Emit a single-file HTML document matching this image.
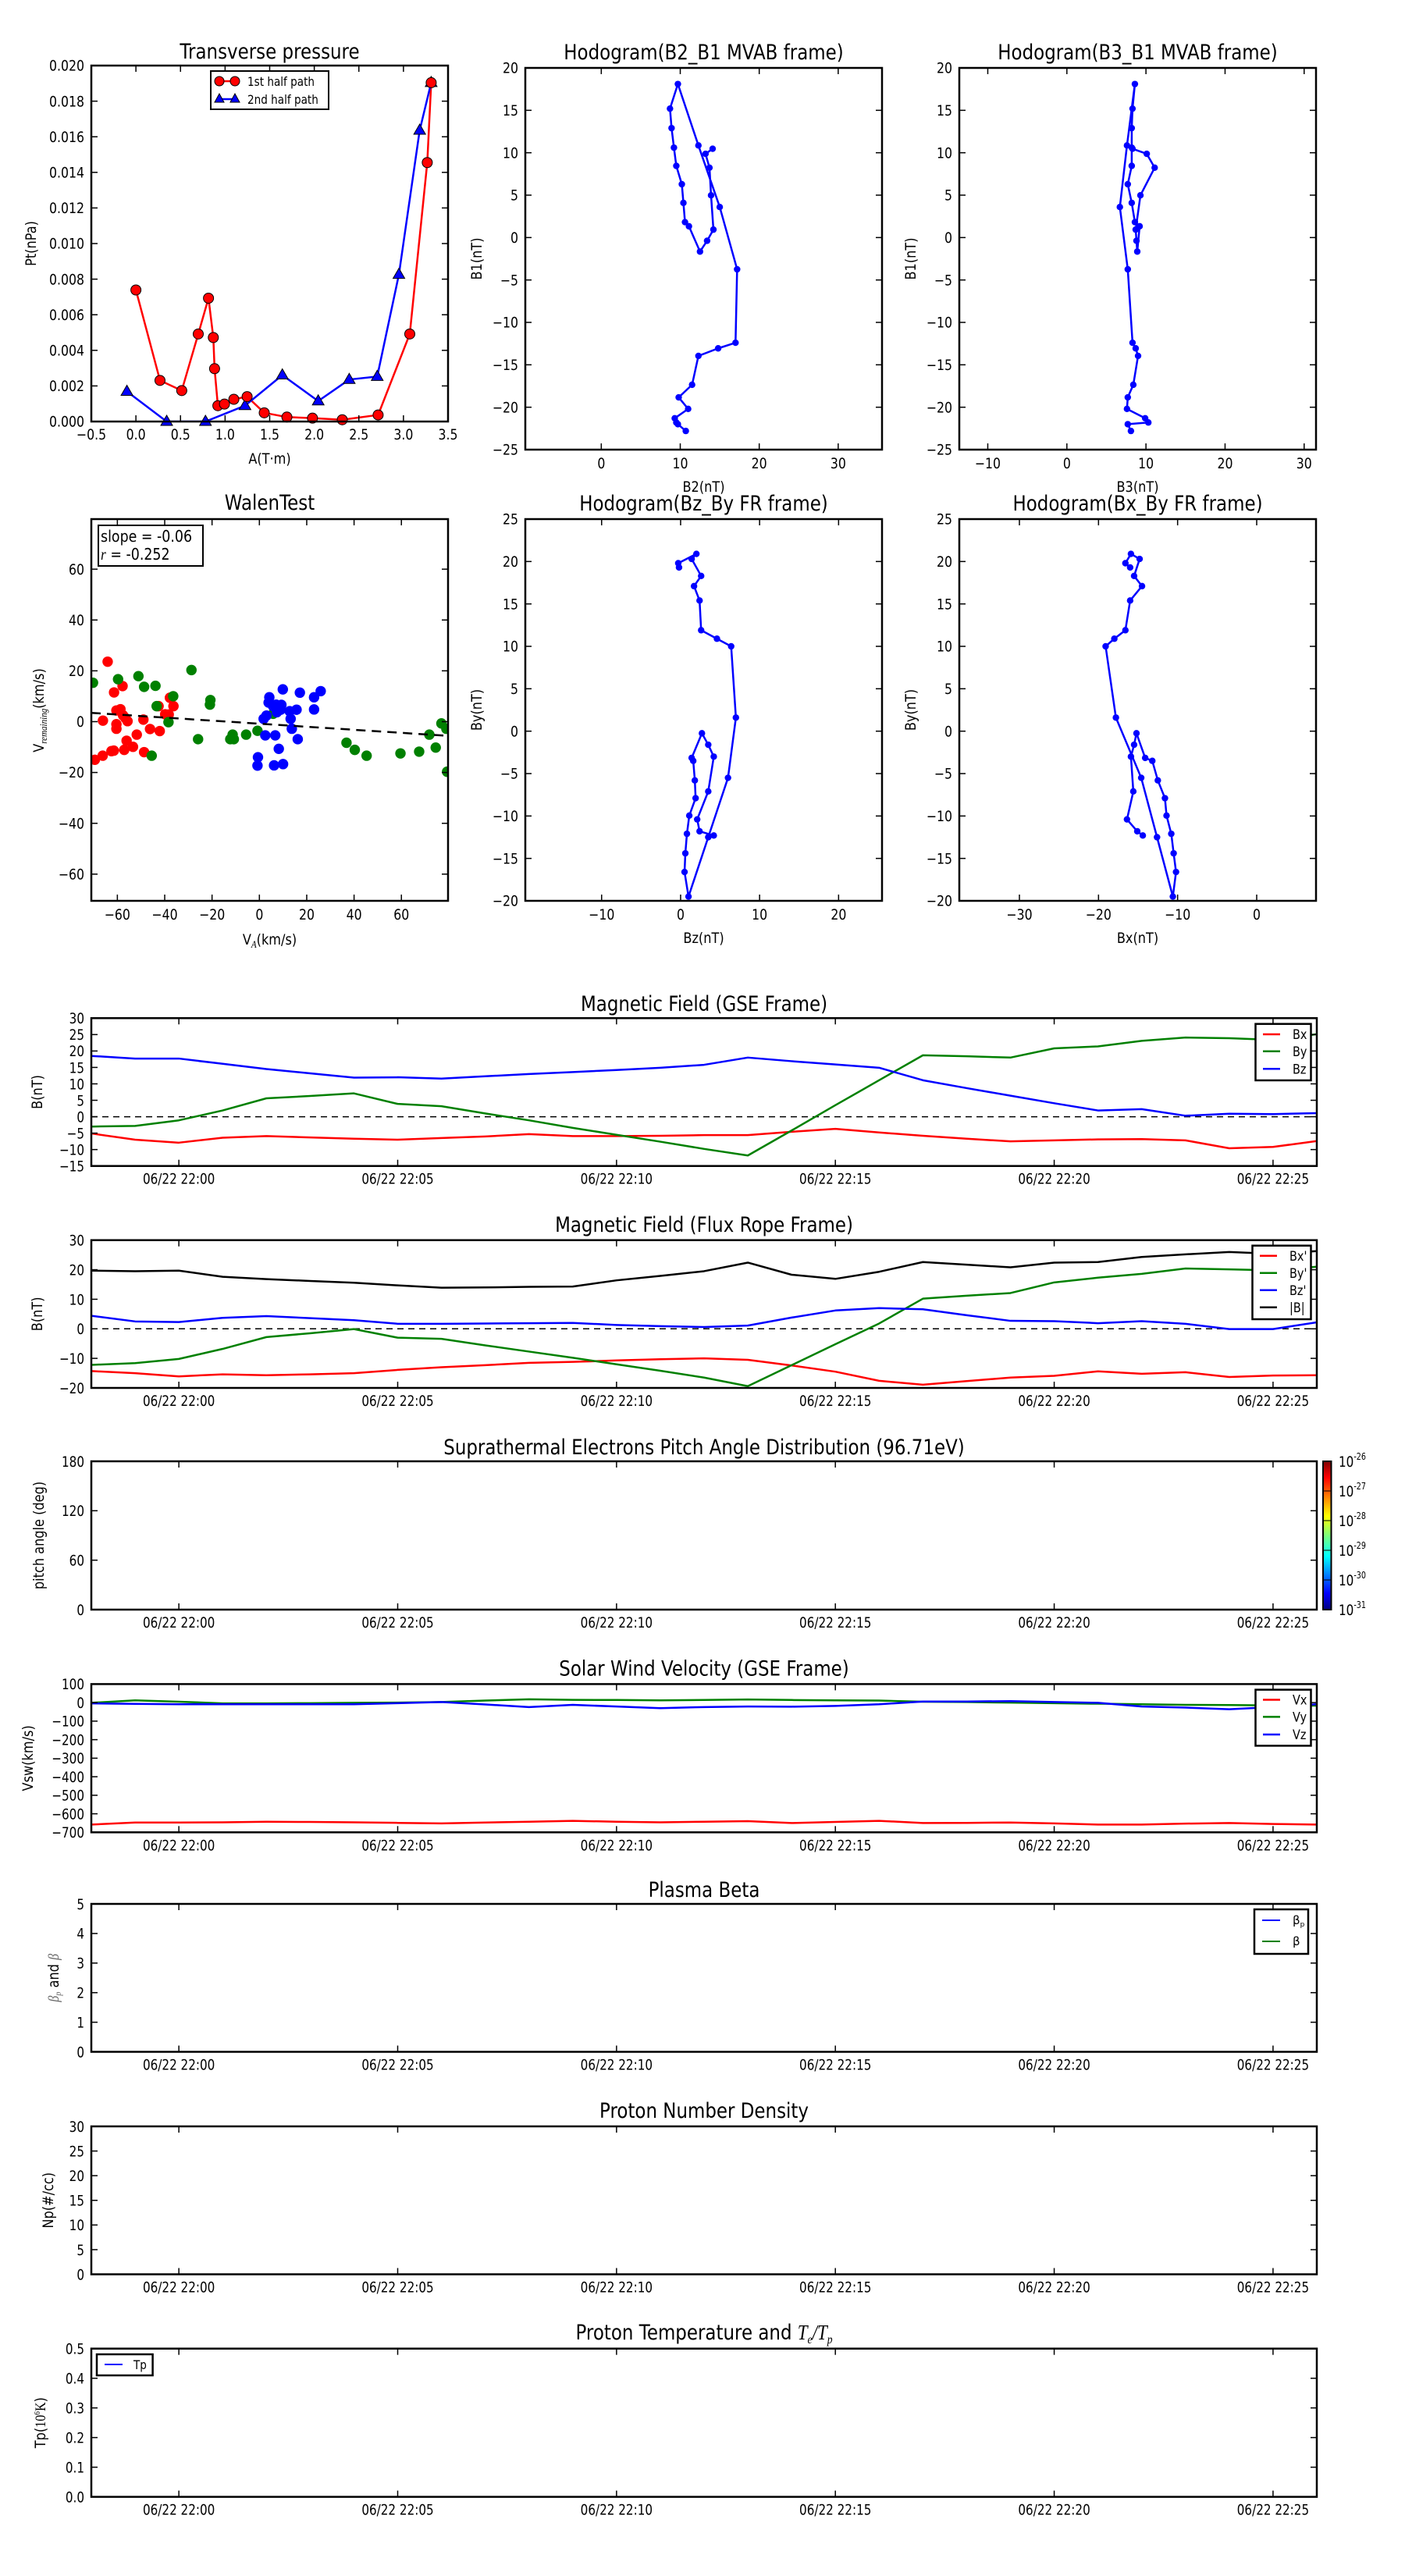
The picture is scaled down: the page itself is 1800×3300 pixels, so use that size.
<!DOCTYPE html>
<html><head><meta charset="utf-8"><title>Flux rope analysis</title>
<style>
html,body{margin:0;padding:0;background:#fff;}
svg{display:block;}
text{font-family:"DejaVu Sans","Liberation Sans",sans-serif;fill:#000;}
</style></head>
<body>
<svg id="chart" xmlns="http://www.w3.org/2000/svg" width="1800" height="3300" viewBox="0 0 1800 3300">
<defs>
<linearGradient id="jet" x1="0" y1="1" x2="0" y2="0">
<stop offset="0" stop-color="#00007f"/><stop offset="0.11" stop-color="#0000ff"/><stop offset="0.36" stop-color="#00ffff"/>
<stop offset="0.5" stop-color="#7dff7a"/><stop offset="0.63" stop-color="#ffff00"/><stop offset="0.89" stop-color="#ff0000"/><stop offset="1" stop-color="#7f0000"/>
</linearGradient>
</defs>
<rect x="0" y="0" width="1800" height="3300" fill="#fff"/>
</svg>
<script>
// ---------- data ----------
const presA1 = [0,0.270,0.514,0.699,0.814,0.868,0.882,0.919,0.993,1.098,1.247,1.439,1.693,1.980,2.314,2.716,3.071,3.267,3.311];
const presP1 = [0.00739,0.00231,0.00174,0.00492,0.00693,0.00472,0.00297,0.00089,0.00098,0.00125,0.00140,0.00049,0.00025,0.00019,0.00010,0.00037,0.00492,0.01455,0.01904];
const presA2 = [-0.101,0.345,0.780,1.223,1.642,2.044,2.392,2.706,2.949,3.182,3.311];
const presP2 = [0.00169,0,0,0.00089,0.00261,0.00115,0.00236,0.00253,0.00826,0.01636,0.01904];

const mvB1 = [10.47,9.87,8.24,4.98,0.94,-0.38,-1.65,1.33,1.82,4.09,6.29,8.45,10.6,12.9,15.2,18.1,10.86,3.6,-3.74,-12.4,-13.06,-13.95,-17.35,-18.84,-20.2,-21.3,-21.8,-22.0,-22.8];
const mvB2 = [14.1,13.2,13.7,13.9,14.2,13.4,12.5,11.1,10.6,10.4,10.2,9.5,9.2,8.9,8.7,9.7,12.3,15.0,17.2,17.0,14.8,12.3,11.5,9.8,11.0,9.3,9.5,9.7,10.7];
const mvB3 = [8.3,10.1,11.1,9.3,8.7,8.8,8.9,9.2,8.6,8.2,7.7,8.2,8.2,8.2,8.3,8.6,7.6,6.7,7.7,8.3,8.7,9.0,8.4,7.7,7.6,9.9,10.3,7.7,8.1];

const hfBy = [19.3,19.8,20.9,20.3,18.3,17.1,15.4,11.9,10.9,10.0,1.6,-5.5,-12.5,-19.5,-16.6,-14.4,-12.1,-9.95,-7.9,-5.8,-3.5,-3.15,-0.25,-1.6,-3.0,-7.1,-10.4,-11.8,-12.3];
const hfBz = [-0.2,-0.3,2.0,1.4,2.6,1.7,2.4,2.6,4.6,6.4,7.0,6.0,3.5,1.0,0.5,0.6,0.8,1.1,1.9,1.8,1.6,1.4,2.7,3.5,4.2,3.5,2.1,2.4,4.2];
const hfBx = [-16.0,-16.6,-15.9,-14.8,-15.5,-14.5,-16.0,-16.6,-18.0,-19.1,-17.8,-14.6,-12.6,-10.6,-10.2,-10.5,-10.8,-11.4,-11.6,-12.5,-13.2,-14.1,-15.2,-15.5,-15.9,-15.6,-16.4,-15.1,-14.4];

const walenRedX = [-64.1,-61.4,-57.8,-66.1,-69.5,-66.2,-62.5,-61.5,-60.4,-58.7,-60.4,-60.4,-57.6,-56.6,-55.7,-56.1,-57.1,-53.4,-51.8,-49.0,-48.7,-46.2,-42.1,-42.6,-39.8,-38.3,-37.8,-36.3];
const walenRedY = [23.6,11.5,14.0,0.4,-15.0,-13.4,-11.6,-11.4,4.4,4.9,-1.0,-2.8,2.5,1.4,0.2,-7.5,-11.1,-9.9,-5.1,0.8,-12.0,-2.9,-3.7,6.1,2.9,2.8,9.4,6.1];
const walenGreenX = [-70.3,-59.7,-51.1,-48.7,-43.9,-43.4,-45.5,-36.4,-38.4,-28.7,-25.9,-20.7,-20.9,-12.3,-11.3,-10.8,-5.6,-0.8,5.8,36.8,40.3,45.3,59.6,67.5,71.8,74.5,76.9,79.0,79.3];
const walenGreenY = [15.3,16.7,17.9,13.7,14.1,6.1,-13.4,10.0,-0.2,20.3,-6.9,8.5,6.7,-6.9,-5.1,-6.9,-5.1,-3.6,3.1,-8.3,-11.1,-13.4,-12.5,-11.8,-5.1,-10.2,-0.7,-2.8,-19.7];
const walenBlueX = [-0.6,-0.8,2.5,6.2,6.7,8.2,10.0,1.8,3.0,4.2,3.9,5.8,7.1,9.3,9.9,7.4,9.0,12.8,13.2,13.7,15.7,16.2,17.1,23.1,23.1,25.9];
const walenBlueY = [-14.0,-17.3,-5.4,-17.2,-5.4,-10.7,-16.7,1.1,2.4,9.6,7.5,6.1,6.7,6.6,12.7,3.7,4.7,4.1,1.1,-2.8,4.7,-6.9,11.4,9.6,4.8,12.0];
const walenSlope = -0.06;
const walenIntercept = -0.8;

// minutes relative to 22:00 on 06/22
const tsMinutes = [-2,-1,0,1,2,3,4,5,6,7,8,9,10,11,12,13,14,15,16,17,18,19,20,21,22,23,24,25,26];
const timeTickMinutes = [0,5,10,15,20,25];
const timeTickLabels = ["06/22 22:00","06/22 22:05","06/22 22:10","06/22 22:15","06/22 22:20","06/22 22:25"];
const gseBx = [-5.1,-7.0,-7.9,-6.4,-5.9,-6.3,-6.7,-7.0,-6.5,-6.0,-5.3,-5.9,-5.9,-5.8,-5.6,-5.6,-4.6,-3.7,-4.8,-5.8,-6.7,-7.5,-7.2,-6.9,-6.8,-7.2,-9.6,-9.2,-7.4];
const gseBy = [-3.0,-2.8,-1.1,1.9,5.6,6.3,7.1,3.9,3.2,1.0,-1.1,-3.4,-5.5,-7.6,-9.8,-11.8,-4.2,3.5,11.1,18.7,18.4,18.0,20.8,21.4,23.1,24.1,23.9,23.4,25.1];
const gseBz = [18.5,17.7,17.7,16.1,14.5,13.2,11.9,12.0,11.6,12.3,13.0,13.6,14.2,14.9,15.8,18.0,16.9,15.9,14.9,11.1,8.7,6.4,4.1,1.9,2.3,0.3,0.9,0.8,1.1];
const frBx = [-14.3,-15.0,-16.1,-15.4,-15.7,-15.4,-15.0,-13.9,-13.0,-12.3,-11.5,-11.2,-10.7,-10.3,-10.0,-10.5,-12.4,-14.5,-17.6,-18.9,-17.7,-16.5,-15.9,-14.4,-15.2,-14.7,-16.3,-15.8,-15.7];
const frBy = [-12.2,-11.6,-10.2,-6.8,-2.8,-1.5,-0.1,-3.0,-3.4,-5.6,-7.7,-9.8,-12.0,-14.2,-16.5,-19.4,-12.3,-5.2,1.8,10.2,11.2,12.1,15.7,17.3,18.6,20.4,20.1,19.8,21.0];
const frBz = [4.4,2.5,2.3,3.7,4.3,3.6,2.9,1.7,1.7,1.8,1.9,2.0,1.3,0.9,0.6,1.1,3.8,6.2,7.0,6.6,4.6,2.7,2.6,1.9,2.6,1.7,-0.1,-0.1,2.2];
const frBmag = [19.7,19.5,19.7,17.6,16.8,16.2,15.6,14.7,13.9,14.0,14.2,14.3,16.4,17.9,19.5,22.4,18.3,16.9,19.3,22.6,21.7,20.8,22.4,22.6,24.3,25.2,26.0,25.4,26.3];
const vswX = [-658,-647,-647,-646,-643,-644,-646,-649,-652,-647,-643,-638,-643,-646,-643,-640,-650,-644,-638,-650,-649,-647,-652,-658,-658,-653,-650,-655,-658];
const vswY = [-1,12,5,-4,-4,-3,-1,0,3,11,18,15,14,12,14,17,14,12,11,5,3,0,-3,-6,-9,-12,-13,-15,-16];
const vswZ = [-4,-7,-9,-9,-9,-9,-9,-3,3,-10,-24,-12,-21,-30,-24,-21,-22,-18,-9,6,6,8,3,-1,-21,-27,-36,-24,-9];
const cbarExponents = [-26,-27,-28,-29,-30,-31];

// ---------- helpers ----------
const NS = 'http://www.w3.org/2000/svg';
const svg = document.getElementById('chart');
const MINUS = '\u2212';
function fmt(v, d){ const s = Math.abs(v).toFixed(d); return (v < -1e-12 ? MINUS : '') + s; }

function node(tag, parent, attrs, name){
  const e = document.createElementNS(NS, tag);
  for (const k in attrs) e.setAttribute(k, attrs[k]);
  
  
  parent.appendChild(e);
  return e;
}
function txt(parent, x, y, content, o, name){
  const e = document.createElementNS(NS, 'text');
  e.setAttribute('transform', `translate(${x},${y}) rotate(${o.rot||0}) scale(${o.sx||1},${o.sy||1})`);
  e.setAttribute('font-size', o.fs);
  e.setAttribute('text-anchor', o.anchor || 'start');
  if (o.family) e.setAttribute('font-family', o.family);
  e.innerHTML = content;
  
  
  parent.appendChild(e);
  return e;
}
let clipN = 0;
function makeAxes(name, x0, y0, x1, y1, xmin, xmax, ymin, ymax){
  const g = node('g', svg, {}, name);
  const X = v => x0 + (v - xmin) / (xmax - xmin) * (x1 - x0);
  const Y = v => y1 - (v - ymin) / (ymax - ymin) * (y1 - y0);
  const id = 'clip' + (clipN++);
  const cp = node('clipPath', g, {id: id}, name + '-clip');
  node('rect', cp, {x: x0, y: y0, width: x1 - x0, height: y1 - y0}, name + '-clip-rect');
  const plot = node('g', g, {'clip-path': `url(#${id})`}, name + '-plot-area');
  return {g, plot, X, Y, x0, y0, x1, y1};
}
function frame(ax, name){
  node('rect', ax.g, {x: ax.x0, y: ax.y0, width: ax.x1 - ax.x0, height: ax.y1 - ax.y0, fill: 'none', stroke: '#000', 'stroke-width': 2.5}, name);
}
function xTicks(ax, vals, labels, st, off, len, name){
  vals.forEach((v, i) => {
    const x = ax.X(v);
    node('line', ax.g, {x1: x, x2: x, y1: ax.y1, y2: ax.y1 - len, stroke: '#000', 'stroke-width': 1.5}, name + '-tick');
    node('line', ax.g, {x1: x, x2: x, y1: ax.y0, y2: ax.y0 + len, stroke: '#000', 'stroke-width': 1.5}, name + '-tick-top');
    txt(ax.g, x, ax.y1 + off, labels[i], Object.assign({anchor: 'middle'}, st), name + '-label');
  });
}
function yTicks(ax, vals, labels, st, len, name){
  const dy = 0.36 * st.fs * (st.sy || 1);
  vals.forEach((v, i) => {
    const y = ax.Y(v);
    node('line', ax.g, {x1: ax.x0, x2: ax.x0 + len, y1: y, y2: y, stroke: '#000', 'stroke-width': 1.5}, name + '-tick');
    node('line', ax.g, {x1: ax.x1, x2: ax.x1 - len, y1: y, y2: y, stroke: '#000', 'stroke-width': 1.5}, name + '-tick-right');
    txt(ax.g, ax.x0 - 9, y + dy, labels[i], Object.assign({anchor: 'end'}, st), name + '-label');
  });
}
function polyline(ax, xs, ys, color, width, name, dash){
  const pts = xs.map((x, i) => ax.X(x).toFixed(2) + ',' + ax.Y(ys[i]).toFixed(2)).join(' ');
  const a = {points: pts, fill: 'none', stroke: color, 'stroke-width': width, 'stroke-linejoin': 'round'};
  if (dash) a['stroke-dasharray'] = dash;
  return node('polyline', ax.plot, a, name);
}
function range(a, b, s){ const r = []; for (let v = a; v <= b + 1e-9; v += s) r.push(+v.toFixed(6)); return r; }

// text styles
const TT = {fs: 18.5, sx: 0.85};
const TTL = {fs: 27, sx: 0.85};
const TL = {fs: 19, sx: 0.85};
const RT = {fs: 19, sx: 0.8};
const RTL = {fs: 27, sx: 0.85};
const RYL = {fs: 19, sx: 0.85};

// ---------- Transverse pressure ----------
(function(){
  const ax = makeAxes('transverse-pressure-chart', 117, 84, 574, 540, -0.5, 3.5, 0, 0.020);
  txt(ax.g, 345.5, 75, 'Transverse pressure', Object.assign({anchor: 'middle'}, TTL), 'transverse-pressure-title');
  const xt = range(-0.5, 3.5, 0.5);
  xTicks(ax, xt, xt.map(v => fmt(v, 1)), TT, 23, 8, 'transverse-x-tick');
  const yt = range(0, 0.02, 0.002);
  yTicks(ax, yt, yt.map(v => fmt(v, 3)), TT, 8, 'transverse-y-tick');
  txt(ax.g, 345.5, 594, 'A(T·m)', Object.assign({anchor: 'middle'}, TL), 'transverse-x-axis-title');
  txt(ax.g, 46, 312, 'Pt(nPa)', Object.assign({anchor: 'middle', rot: -90}, TL), 'transverse-y-axis-title');
  polyline(ax, presA1, presP1, '#ff0000', 2.5, 'first-half-path-line');
  polyline(ax, presA2, presP2, '#0000ff', 2.5, 'second-half-path-line');
  const mg = node('g', ax.g, {}, 'transverse-markers');
  presA2.forEach((a, i) => {
    const x = ax.X(a), y = ax.Y(presP2[i]);
    node('polygon', mg, {points: `${x},${y-8} ${x-7.5},${y+5} ${x+7.5},${y+5}`, fill: '#0000ff', stroke: '#000', 'stroke-width': 1}, 'second-half-marker');
  });
  presA1.forEach((a, i) => {
    node('circle', mg, {cx: ax.X(a), cy: ax.Y(presP1[i]), r: 6.5, fill: '#ff0000', stroke: '#000', 'stroke-width': 1}, 'first-half-marker');
  });
  frame(ax, 'transverse-frame');
  const lg = node('g', ax.g, {}, 'transverse-legend');
  node('rect', lg, {x: 270, y: 91, width: 151, height: 49, fill: '#fff', stroke: '#000', 'stroke-width': 2}, 'legend-box');
  node('line', lg, {x1: 281, x2: 301, y1: 104, y2: 104, stroke: '#ff0000', 'stroke-width': 2.5}, 'legend-first-line');
  node('circle', lg, {cx: 281, cy: 104, r: 6, fill: '#ff0000', stroke: '#000'}, 'legend-first-marker');
  node('circle', lg, {cx: 301, cy: 104, r: 6, fill: '#ff0000', stroke: '#000'}, 'legend-first-marker');
  txt(lg, 317, 110, '1st half path', {fs: 16, sx: 0.85}, 'legend-entry-first-half');
  node('line', lg, {x1: 281, x2: 301, y1: 127, y2: 127, stroke: '#0000ff', 'stroke-width': 2.5}, 'legend-second-line');
  node('polygon', lg, {points: '281,120 275,131 287,131', fill: '#0000ff', stroke: '#000'}, 'legend-second-marker');
  node('polygon', lg, {points: '301,120 295,131 307,131', fill: '#0000ff', stroke: '#000'}, 'legend-second-marker');
  txt(lg, 317, 133, '2nd half path', {fs: 16, sx: 0.85}, 'legend-entry-second-half');
})();

// ---------- Hodograms ----------
function hodogram(name, title, x0, y0, x1, y1, xmin, xmax, ymin, ymax, xt, yt, xs, ys, xl, yl){
  const ax = makeAxes(name, x0, y0, x1, y1, xmin, xmax, ymin, ymax);
  txt(ax.g, (x0 + x1) / 2, y0 - 11, title, Object.assign({anchor: 'middle'}, TTL), name + '-title');
  xTicks(ax, xt, xt.map(v => fmt(v, 0)), TT, 24, 8, name + '-x-tick');
  yTicks(ax, yt, yt.map(v => fmt(v, 0)), TT, 8, name + '-y-tick');
  txt(ax.g, (x0 + x1) / 2, y1 + 54, xl, Object.assign({anchor: 'middle'}, TL), name + '-x-axis-title');
  txt(ax.g, x0 - 56, (y0 + y1) / 2, yl, Object.assign({anchor: 'middle', rot: -90}, TL), name + '-y-axis-title');
  polyline(ax, xs, ys, '#0000ff', 2.5, name + '-path');
  xs.forEach((v, i) => node('circle', ax.plot, {cx: ax.X(v), cy: ax.Y(ys[i]), r: 4.2, fill: '#0000ff'}, name + '-point'));
  frame(ax, name + '-frame');
}
hodogram('hodogram-b2-b1', 'Hodogram(B2_B1 MVAB frame)', 673, 87, 1130, 576, -9.62, 35.55, -25, 20, [0,10,20,30], range(-25,20,5), mvB2, mvB1, 'B2(nT)', 'B1(nT)');
hodogram('hodogram-b3-b1', 'Hodogram(B3_B1 MVAB frame)', 1229, 87, 1686, 576, -13.6, 31.5, -25, 20, [-10,0,10,20,30], range(-25,20,5), mvB3, mvB1, 'B3(nT)', 'B1(nT)');
hodogram('hodogram-bz-by', 'Hodogram(Bz_By FR frame)', 673, 665, 1130, 1154, -19.66, 25.5, -20, 25, [-10,0,10,20], range(-20,25,5), hfBz, hfBy, 'Bz(nT)', 'By(nT)');
hodogram('hodogram-bx-by', 'Hodogram(Bx_By FR frame)', 1229, 665, 1686, 1154, -37.6, 7.5, -20, 25, [-30,-20,-10,0], range(-20,25,5), hfBx, hfBy, 'Bx(nT)', 'By(nT)');

// ---------- Walen test ----------
(function(){
  const ax = makeAxes('walen-test-chart', 117, 665, 574, 1154, -71, 79.7, -70.5, 79.7);
  txt(ax.g, 345.5, 653, 'WalenTest', Object.assign({anchor: 'middle'}, TTL), 'walen-test-title');
  const xt = range(-60, 60, 20);
  xTicks(ax, xt, xt.map(v => fmt(v, 0)), TT, 24, 8, 'walen-x-tick');
  yTicks(ax, xt, xt.map(v => fmt(v, 0)), TT, 8, 'walen-y-tick');
  txt(ax.g, 345.5, 1210, 'V<tspan font-family="Liberation Serif" font-style="italic" font-size="13" dy="4">A</tspan><tspan dy="-4">(km/s)</tspan>', Object.assign({anchor: 'middle'}, TL), 'walen-x-axis-title');
  txt(ax.g, 56, 910, 'V<tspan font-family="Liberation Serif" font-style="italic" font-size="13" dy="4">remaining</tspan><tspan dy="-4">(km/s)</tspan>', Object.assign({anchor: 'middle', rot: -90}, TL), 'walen-y-axis-title');
  const sets = [[walenRedX, walenRedY, '#ff0000', 'walen-red-point'], [walenGreenX, walenGreenY, '#008000', 'walen-green-point'], [walenBlueX, walenBlueY, '#0000ff', 'walen-blue-point']];
  sets.forEach(s => s[0].forEach((v, i) => node('circle', ax.plot, {cx: ax.X(v), cy: ax.Y(s[1][i]), r: 6.7, fill: s[2]}, s[3])));
  const fx = [-71, 79.7];
  polyline(ax, fx, fx.map(v => walenSlope * v + walenIntercept), '#000', 2.5, 'walen-fit-line', '12,8');
  frame(ax, 'walen-frame');
  node('rect', ax.g, {x: 126, y: 673, width: 134, height: 52, fill: '#fff', stroke: '#000', 'stroke-width': 2}, 'walen-stats-box');
  txt(ax.g, 129, 694, 'slope = ' + fmt(walenSlope, 2).replace(MINUS, '-'), {fs: 20.5, sx: 0.85}, 'walen-slope-text');
  txt(ax.g, 129, 717, '<tspan font-family="Liberation Serif" font-style="italic">r</tspan> = -0.252', {fs: 20.5, sx: 0.85}, 'walen-r-text');
})();

// ---------- Time series ----------
const TX0 = 117, TX1 = 1687, TMIN = -2, TMAX = 26;
function tsAxes(name, top, bot, ymin, ymax, yt, ylabs, title, titleY, ylabel, ylx){
  const ax = makeAxes(name, TX0, top, TX1, bot, TMIN, TMAX, ymin, ymax);
  txt(ax.g, 902, titleY, title, Object.assign({anchor: 'middle'}, RTL), name + '-title');
  xTicks(ax, timeTickMinutes, timeTickLabels, RT, 23, 8, name + '-x-tick');
  yTicks(ax, yt, ylabs, RT, 8, name + '-y-tick');
  txt(ax.g, ylx, (top + bot) / 2, ylabel, Object.assign({anchor: 'middle', rot: -90}, RYL), name + '-y-axis-title');
  return ax;
}
const LGS = {fs: 17, sx: 0.85};
function legend(ax, name, x, y, w, h, entries, rows, st, lx1, lx2, tx){
  const g = node('g', ax.g, {}, name);
  node('rect', g, {x, y, width: w, height: h, fill: '#fff', stroke: '#000', 'stroke-width': 2.5}, name + '-box');
  entries.forEach((e, i) => {
    node('line', g, {x1: lx1, x2: lx2, y1: rows[i], y2: rows[i], stroke: e[1], 'stroke-width': 2.5}, 'legend-entry-' + e[2] + '-line');
    txt(g, tx, rows[i] + 0.36 * st.fs, e[0], st, 'legend-entry-' + e[2]);
  });
}

// GSE magnetic field
(function(){
  const yt = range(-15, 30, 5);
  const ax = tsAxes('magnetic-field-gse-chart', 1304.3, 1493.7, -15, 30, yt, yt.map(v => fmt(v, 0)), 'Magnetic Field (GSE Frame)', 1295, 'B(nT)', 54);
  polyline(ax, [TMIN, TMAX], [0, 0], '#000', 1.5, 'gse-zero-line', '8,6');
  polyline(ax, tsMinutes, gseBx, '#ff0000', 2.5, 'gse-bx-line');
  polyline(ax, tsMinutes, gseBy, '#008000', 2.5, 'gse-by-line');
  polyline(ax, tsMinutes, gseBz, '#0000ff', 2.5, 'gse-bz-line');
  frame(ax, 'gse-frame');
  legend(ax, 'gse-legend', 1608.5, 1311.7, 71, 72.3, [['Bx','#ff0000','bx'],['By','#008000','by'],['Bz','#0000ff','bz']], [1325,1346.7,1369.3], LGS, 1618, 1640, 1656);
})();

// Flux rope frame
(function(){
  const yt = range(-20, 30, 10);
  const ax = tsAxes('magnetic-field-fr-chart', 1588.7, 1778, -20, 30, yt, yt.map(v => fmt(v, 0)), 'Magnetic Field (Flux Rope Frame)', 1578, 'B(nT)', 54);
  polyline(ax, [TMIN, TMAX], [0, 0], '#000', 1.5, 'fr-zero-line', '8,6');
  polyline(ax, tsMinutes, frBx, '#ff0000', 2.5, 'fr-bx-line');
  polyline(ax, tsMinutes, frBy, '#008000', 2.5, 'fr-by-line');
  polyline(ax, tsMinutes, frBz, '#0000ff', 2.5, 'fr-bz-line');
  polyline(ax, tsMinutes, frBmag, '#000000', 2.5, 'fr-bmag-line');
  frame(ax, 'fr-frame');
  legend(ax, 'fr-legend', 1604.5, 1595.7, 75, 94.3, [["Bx'",'#ff0000','bx'],["By'",'#008000','by'],["Bz'",'#0000ff','bz'],['|B|','#000','bmag']], [1608.7,1630.7,1652.7,1674.7], LGS, 1614, 1636, 1652);
})();

// Pitch angle distribution
(function(){
  const yt = [0, 60, 120, 180];
  const ax = tsAxes('pitch-angle-chart', 1872, 2062, 0, 180, yt, yt.map(v => fmt(v, 0)), 'Suprathermal Electrons Pitch Angle Distribution (96.71eV)', 1863, 'pitch angle (deg)', 56);
  frame(ax, 'pitch-frame');
  const cb = node('g', svg, {}, 'pitch-colorbar');
  node('rect', cb, {x: 1695, y: 1872, width: 10.5, height: 190, fill: 'url(#jet)', stroke: '#000', 'stroke-width': 2}, 'colorbar-gradient');
  cbarExponents.forEach((e, i) => {
    const y = 1872 + i * 190 / (cbarExponents.length - 1);
    node('line', cb, {x1: 1695, x2: 1705.5, y1: y, y2: y, stroke: '#000', 'stroke-width': 1}, 'colorbar-tick');
    txt(cb, 1715, y + 7, '10<tspan font-size="12" dy="-9">' + e + '</tspan>', RT, 'colorbar-label');
  });
})();

// Solar wind velocity
(function(){
  const yt = range(-700, 100, 100);
  const ax = tsAxes('solar-wind-velocity-chart', 2157.4, 2347.3, -700, 100, yt, yt.map(v => fmt(v, 0)), 'Solar Wind Velocity (GSE Frame)', 2146.6, 'Vsw(km/s)', 42);
  polyline(ax, tsMinutes, vswX, '#ff0000', 2.5, 'vx-line');
  polyline(ax, tsMinutes, vswY, '#008000', 2.5, 'vy-line');
  polyline(ax, tsMinutes, vswZ, '#0000ff', 2.5, 'vz-line');
  frame(ax, 'velocity-frame');
  legend(ax, 'velocity-legend', 1608.5, 2164.6, 71, 71.8, [['Vx','#ff0000','vx'],['Vy','#008000','vy'],['Vz','#0000ff','vz']], [2177.5,2199.4,2222], LGS, 1618, 1640, 1656);
})();

// Plasma beta
(function(){
  const yt = range(0, 5, 1);
  const ax = tsAxes('plasma-beta-chart', 2439, 2628.5, 0, 5, yt, yt.map(v => fmt(v, 0)), 'Plasma Beta', 2430,
    '<tspan fill="#666" font-family="Liberation Serif" font-style="italic">β<tspan font-size="12" dy="3">p</tspan></tspan><tspan dy="-3"> and </tspan><tspan fill="#666" font-family="Liberation Serif" font-style="italic">β</tspan>', 75);
  frame(ax, 'beta-frame');
  const g = node('g', ax.g, {}, 'beta-legend');
  node('rect', g, {x: 1607, y: 2446, width: 69, height: 57, fill: '#fff', stroke: '#000', 'stroke-width': 2.5}, 'beta-legend-box');
  node('line', g, {x1: 1617, x2: 1640, y1: 2460, y2: 2460, stroke: '#0000ff', 'stroke-width': 2}, 'legend-entry-beta-p-line');
  txt(g, 1656, 2465, 'β<tspan font-size="9" dy="3">p</tspan>', {fs: 15, family: 'Liberation Serif', sx: 1}, 'legend-entry-beta-p');
  node('line', g, {x1: 1617, x2: 1640, y1: 2487, y2: 2487, stroke: '#008000', 'stroke-width': 2}, 'legend-entry-beta-line');
  txt(g, 1656, 2492, 'β', {fs: 15, family: 'Liberation Serif', sx: 1}, 'legend-entry-beta');
})();

// Proton number density
(function(){
  const yt = range(0, 30, 5);
  const ax = tsAxes('proton-density-chart', 2724, 2913.5, 0, 30, yt, yt.map(v => fmt(v, 0)), 'Proton Number Density', 2713, 'Np(#/cc)', 68);
  frame(ax, 'density-frame');
})();

// Proton temperature
(function(){
  const yt = range(0, 0.5, 0.1);
  const ax = tsAxes('proton-temperature-chart', 3008.7, 3198.6, 0, 0.5, yt, yt.map(v => fmt(v, 1)),
    'Proton Temperature and <tspan font-family="Liberation Serif" font-style="italic">T<tspan font-size="16" dy="5">e</tspan><tspan dy="-5">/T</tspan><tspan font-size="16" dy="5">p</tspan></tspan>', 2997,
    'Tp(<tspan font-family="Liberation Serif">10<tspan font-size="11" dy="-7">6</tspan><tspan dy="7">K</tspan></tspan>)', 58);
  frame(ax, 'temperature-frame');
  const g = node('g', ax.g, {}, 'temperature-legend');
  node('rect', g, {x: 124, y: 3016, width: 71.6, height: 27, fill: '#fff', stroke: '#000', 'stroke-width': 2.5}, 'temperature-legend-box');
  node('line', g, {x1: 134, x2: 157, y1: 3029, y2: 3029, stroke: '#0000ff', 'stroke-width': 2}, 'legend-entry-tp-line');
  txt(g, 171, 3035, 'Tp', {fs: 16, sx: 0.85}, 'legend-entry-tp');
})();
</script>
</body></html>
